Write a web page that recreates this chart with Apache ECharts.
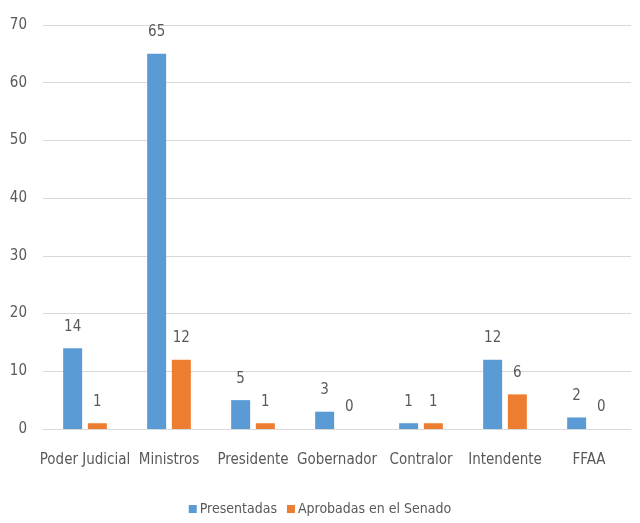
<!DOCTYPE html>
<html>
<head>
<meta charset="utf-8">
<script src="https://cdn.jsdelivr.net/npm/echarts@6/dist/echarts.min.js"></script>
<style>
  html, body { margin: 0; padding: 0; background: #fff; }
  #chart { width: 640px; height: 523px; }
</style>
</head>
<body>
<div id="chart"></div>
<script>
// datos
const categorias = ['Poder Judicial', 'Ministros', 'Presidente', 'Gobernador', 'Contralor', 'Intendente', 'FFAA']
const presentadas = [14, 65, 5, 3, 1, 12, 2]
const aprobadas = [1, 12, 1, 0, 1, 6, 0]

const fuente = '"Liberation Sans Narrow", "DejaVu Sans Condensed", sans-serif'
const gris = '#595959'

const chart = echarts.init(document.getElementById('chart'))

const etiqueta = {
  show: true,
  position: 'top',
  distance: 14,
  color: gris,
  fontFamily: fuente,
  fontSize: 15
}

chart.setOption({
  animation: false,
  grid: { left: 43, right: 9, top: 25, bottom: 94 },
  legend: {
    bottom: 2,
    itemWidth: 8,
    itemHeight: 8,
    itemGap: 10,
    icon: 'rect',
    textStyle: { color: gris, fontFamily: fuente, fontSize: 14, padding: [0, 0, 0, -2] },
    data: ['Presentadas', 'Aprobadas en el Senado']
  },
  xAxis: {
    type: 'category',
    data: categorias,
    axisLine: { lineStyle: { color: '#d9d9d9', width: 1 } },
    axisTick: { show: false },
    axisLabel: { color: gris, fontFamily: fuente, fontSize: 15, margin: 24, interval: 0 }
  },
  yAxis: {
    type: 'value',
    min: 0,
    max: 70,
    interval: 10,
    axisLine: { show: false },
    axisTick: { show: false },
    axisLabel: { color: gris, fontFamily: fuente, fontSize: 15, margin: 16 },
    splitLine: { lineStyle: { color: '#d9d9d9', width: 1 } }
  },
  series: [
    {
      name: 'Presentadas',
      type: 'bar',
      data: presentadas,
      barGap: '30%',
      barCategoryGap: '48%',
      itemStyle: { color: '#5B9BD5' },
      label: etiqueta
    },
    {
      name: 'Aprobadas en el Senado',
      type: 'bar',
      data: aprobadas,
      itemStyle: { color: '#ED7D31' },
      label: etiqueta
    }
  ]
})
</script>
</body>
</html>
